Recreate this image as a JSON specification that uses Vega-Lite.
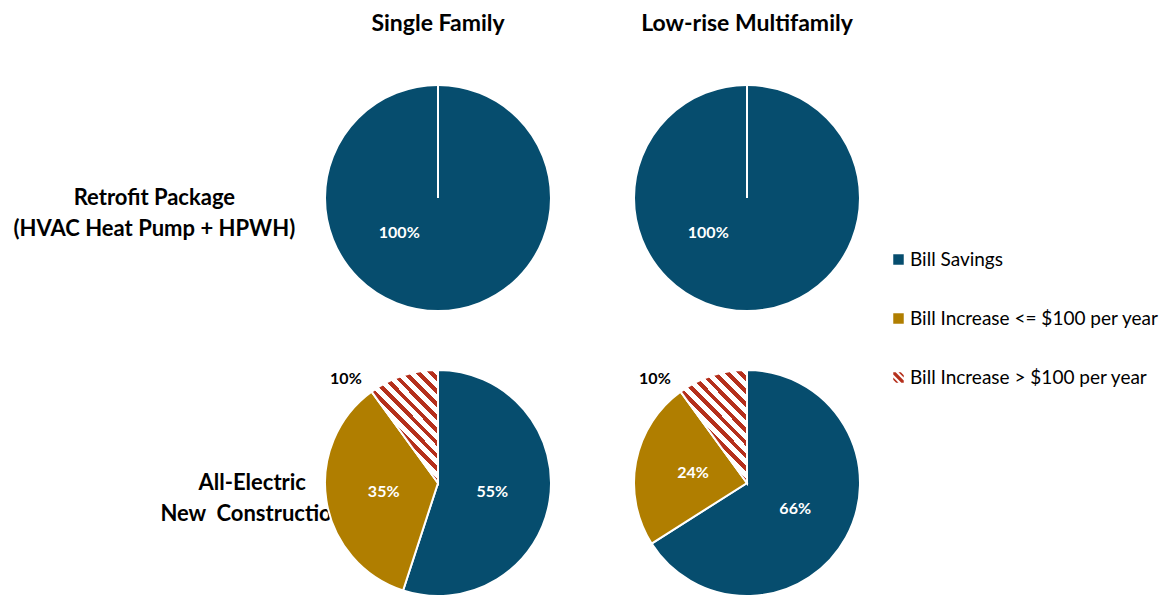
{
  "$schema": "https://vega.github.io/schema/vega-lite/v6.json",
  "padding": {"left": 13, "top": 13, "right": 5, "bottom": 0},
  "config": {"font": "Lato", "view": {"stroke": null}},
  "bounds": "flush",
  "data": {"values": [
    {"row": "Retrofit Package|(HVAC Heat Pump + HPWH)", "col": "Single Family", "cat": "Bill Savings", "k": 1, "p": 1.00},
    {"row": "Retrofit Package|(HVAC Heat Pump + HPWH)", "col": "Single Family", "cat": "Bill Increase <= $100 per year", "k": 2, "p": 0},
    {"row": "Retrofit Package|(HVAC Heat Pump + HPWH)", "col": "Single Family", "cat": "Bill Increase > $100 per year", "k": 3, "p": 0},
    {"row": "Retrofit Package|(HVAC Heat Pump + HPWH)", "col": "Low-rise Multifamily", "cat": "Bill Savings", "k": 1, "p": 1.00},
    {"row": "Retrofit Package|(HVAC Heat Pump + HPWH)", "col": "Low-rise Multifamily", "cat": "Bill Increase <= $100 per year", "k": 2, "p": 0},
    {"row": "Retrofit Package|(HVAC Heat Pump + HPWH)", "col": "Low-rise Multifamily", "cat": "Bill Increase > $100 per year", "k": 3, "p": 0},
    {"row": "All-Electric|New  Construction", "col": "Single Family", "cat": "Bill Savings", "k": 1, "p": 0.55},
    {"row": "All-Electric|New  Construction", "col": "Single Family", "cat": "Bill Increase <= $100 per year", "k": 2, "p": 0.35},
    {"row": "All-Electric|New  Construction", "col": "Single Family", "cat": "Bill Increase > $100 per year", "k": 3, "p": 0.10},
    {"row": "All-Electric|New  Construction", "col": "Low-rise Multifamily", "cat": "Bill Savings", "k": 1, "p": 0.66},
    {"row": "All-Electric|New  Construction", "col": "Low-rise Multifamily", "cat": "Bill Increase <= $100 per year", "k": 2, "p": 0.24},
    {"row": "All-Electric|New  Construction", "col": "Low-rise Multifamily", "cat": "Bill Increase > $100 per year", "k": 3, "p": 0.10}
  ]},
  "facet": {
    "row": {"field": "row", "type": "nominal", "sort": ["Retrofit Package|(HVAC Heat Pump + HPWH)", "All-Electric|New  Construction"], "title": null,
      "header": {"labelAngle": 0, "labelOrient": "left", "labelAlign": "center", "labelFontSize": 22, "labelFontWeight": "bold", "labelColor": "#000000", "labelLineHeight": 31,
        "labelExpr": "indexof(datum.label, 'Retrofit') == 0 ? split('|' + datum.label, '|') : [pad(split(datum.label, '|')[0], length(split(datum.label, '|')[0]) + 47, '\u00a0'), pad(replace(split(datum.label, '|')[1], '  ', '\u00a0\u00a0'), length(split(datum.label, '|')[1]) + 47, '\u00a0')]", "labelPadding": -128}},
    "column": {"field": "col", "type": "nominal", "sort": ["Single Family", "Low-rise Multifamily"], "title": null,
      "header": {"labelOrient": "top", "labelFontSize": 23, "labelFontWeight": "bold", "labelColor": "#000000", "labelPadding": 42}}
  },
  "spacing": {"row": 45, "column": 49},
  "spec": {
    "width": 260,
    "height": 240,
    "layer": [
      {
        "mark": {"type": "point", "filled": true, "size": 1},
        "encoding": {
          "color": {"field": "cat", "type": "nominal",
            "scale": {"domain": ["Bill Savings", "Bill Increase <= $100 per year", "Bill Increase > $100 per year"],
              "range": ["#064D6E", "#B07E00", "#B5301C"]},
            "legend": {"title": null, "orient": "none", "legendX": 581, "legendY": 172, "symbolSize": 110, "labelFontSize": 19, "labelColor": "#000000", "rowPadding": 39, "symbolStrokeWidth": 0, "labelOffset": 2, "labelLimit": 400, "symbolOpacity": 1}
          },
          "shape": {"field": "cat", "type": "nominal",
            "scale": {"domain": ["Bill Savings", "Bill Increase <= $100 per year", "Bill Increase > $100 per year"],
              "range": ["square", "square", "M-1,-1L-0.55,-1L1,0.55L1,1L0.55,1L-1,-0.55Z M0,-1L0.45,-1L1,-0.45L1,0Z M-1,0L0,1L-0.45,1L-1,0.45Z"]}
          }
        }
      },
      {
        "mark": {"type": "arc", "outerRadius": 113, "stroke": "#ffffff", "strokeWidth": 2},
        "encoding": {
          "theta": {"field": "p", "type": "quantitative", "stack": true, "scale": {"domain": [0, 1]}},
          "order": {"field": "k", "type": "quantitative"},
          "color": {"field": "cat", "type": "nominal"}
        }
      },
      {
        "mark": {"type": "arc", "outerRadius": 113, "stroke": "#ffffff", "strokeWidth": 2,
          "fill": {"gradient": "linear", "x1": 0, "y1": 1, "x2": 0.7, "y2": -0.18, "stops": [
                  {"offset": 0, "color": "#B5301C"}, {"offset": 0.0321, "color": "#B5301C"}, {"offset": 0.0321, "color": "#ffffff"}, {"offset": 0.0714, "color": "#ffffff"},
                  {"offset": 0.0714, "color": "#B5301C"}, {"offset": 0.1036, "color": "#B5301C"}, {"offset": 0.1036, "color": "#ffffff"}, {"offset": 0.1429, "color": "#ffffff"},
                  {"offset": 0.1429, "color": "#B5301C"}, {"offset": 0.1750, "color": "#B5301C"}, {"offset": 0.1750, "color": "#ffffff"}, {"offset": 0.2143, "color": "#ffffff"},
                  {"offset": 0.2143, "color": "#B5301C"}, {"offset": 0.2464, "color": "#B5301C"}, {"offset": 0.2464, "color": "#ffffff"}, {"offset": 0.2857, "color": "#ffffff"},
                  {"offset": 0.2857, "color": "#B5301C"}, {"offset": 0.3179, "color": "#B5301C"}, {"offset": 0.3179, "color": "#ffffff"}, {"offset": 0.3571, "color": "#ffffff"},
                  {"offset": 0.3571, "color": "#B5301C"}, {"offset": 0.3893, "color": "#B5301C"}, {"offset": 0.3893, "color": "#ffffff"}, {"offset": 0.4286, "color": "#ffffff"},
                  {"offset": 0.4286, "color": "#B5301C"}, {"offset": 0.4607, "color": "#B5301C"}, {"offset": 0.4607, "color": "#ffffff"}, {"offset": 0.5000, "color": "#ffffff"},
                  {"offset": 0.5000, "color": "#B5301C"}, {"offset": 0.5321, "color": "#B5301C"}, {"offset": 0.5321, "color": "#ffffff"}, {"offset": 0.5714, "color": "#ffffff"},
                  {"offset": 0.5714, "color": "#B5301C"}, {"offset": 0.6036, "color": "#B5301C"}, {"offset": 0.6036, "color": "#ffffff"}, {"offset": 0.6429, "color": "#ffffff"},
                  {"offset": 0.6429, "color": "#B5301C"}, {"offset": 0.6750, "color": "#B5301C"}, {"offset": 0.6750, "color": "#ffffff"}, {"offset": 0.7143, "color": "#ffffff"},
                  {"offset": 0.7143, "color": "#B5301C"}, {"offset": 0.7464, "color": "#B5301C"}, {"offset": 0.7464, "color": "#ffffff"}, {"offset": 0.7857, "color": "#ffffff"},
                  {"offset": 0.7857, "color": "#B5301C"}, {"offset": 0.8179, "color": "#B5301C"}, {"offset": 0.8179, "color": "#ffffff"}, {"offset": 0.8571, "color": "#ffffff"},
                  {"offset": 0.8571, "color": "#B5301C"}, {"offset": 0.8893, "color": "#B5301C"}, {"offset": 0.8893, "color": "#ffffff"}, {"offset": 0.9286, "color": "#ffffff"},
                  {"offset": 0.9286, "color": "#B5301C"}, {"offset": 0.9607, "color": "#B5301C"}, {"offset": 0.9607, "color": "#ffffff"}, {"offset": 1, "color": "#ffffff"}
                ]}},
        "encoding": {
          "theta": {"field": "p", "type": "quantitative", "stack": true},
          "order": {"field": "k", "type": "quantitative"},
          "opacity": {"condition": {"test": "datum.k == 3 && datum.p > 0", "value": 1}, "value": 0}
        }
      },
      {
        "mark": {"type": "text", "radius": 55, "color": "#ffffff", "fontSize": 16, "fontWeight": "bold"},
        "encoding": {
          "theta": {"field": "p", "type": "quantitative", "stack": true},
          "order": {"field": "k", "type": "quantitative"},
          "text": {"condition": {"test": "datum.p > 0 && datum.p < 1 && datum.k < 3", "field": "p", "type": "quantitative", "format": ".0%"}, "value": ""}
        }
      },
      {
        "mark": {"type": "text", "radius": 52, "thetaOffset": 0.84, "color": "#ffffff", "fontSize": 16, "fontWeight": "bold"},
        "encoding": {
          "theta": {"field": "p", "type": "quantitative", "stack": true},
          "order": {"field": "k", "type": "quantitative"},
          "text": {"condition": {"test": "datum.p == 1", "field": "p", "type": "quantitative", "format": ".0%"}, "value": ""}
        }
      },
      {
        "mark": {"type": "text", "radius": 139, "thetaOffset": -0.41, "color": "#000000", "fontSize": 16, "fontWeight": "bold"},
        "encoding": {
          "theta": {"field": "p", "type": "quantitative", "stack": true},
          "order": {"field": "k", "type": "quantitative"},
          "text": {"condition": {"test": "datum.k == 3 && datum.p > 0", "field": "p", "type": "quantitative", "format": ".0%"}, "value": ""}
        }
      }
    ]
  }
}
